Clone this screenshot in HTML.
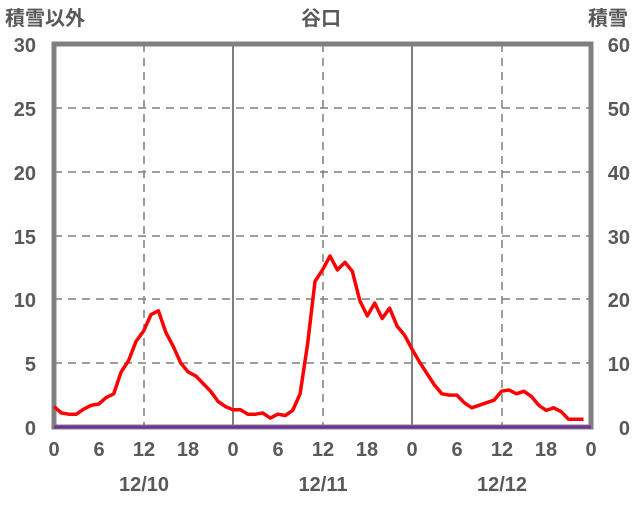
<!DOCTYPE html><html><head><meta charset="utf-8"><style>
body{margin:0;background:#fff;width:636px;height:501px;overflow:hidden}
text{font-family:"Liberation Sans","Noto Sans CJK JP",sans-serif;fill:#595959;font-size:20px;font-weight:bold}
</style></head><body>
<svg id="s" width="636" height="501" xmlns="http://www.w3.org/2000/svg">
<g stroke="#7f7f7f" stroke-width="1.5" stroke-dasharray="8,6">
<line x1="54" x2="591" y1="108" y2="108"/><line x1="54" x2="591" y1="172" y2="172"/><line x1="54" x2="591" y1="236" y2="236"/><line x1="54" x2="591" y1="299" y2="299"/><line x1="54" x2="591" y1="363" y2="363"/>
<line x1="144" x2="144" y1="44" y2="427"/><line x1="323" x2="323" y1="44" y2="427"/><line x1="502" x2="502" y1="44" y2="427"/>
</g>
<g stroke="#7f7f7f" stroke-width="2"><line x1="233" x2="233" y1="44" y2="427"/><line x1="412" x2="412" y1="44" y2="427"/></g>
<rect x="54" y="44" width="537" height="383" fill="none" stroke="#808080" stroke-width="5"/>
<polyline id="p" fill="none" stroke="#ff0000" stroke-width="3.5" stroke-linejoin="round"/>
<line x1="54" x2="591" y1="427" y2="427" stroke="#7030a0" stroke-width="3"/>
<text x="5" y="25">積雪以外</text><text x="301" y="25">谷口</text><text x="588" y="25">積雪</text>
<g text-anchor="end"><text x="36" y="52">30</text><text x="36" y="116">25</text><text x="36" y="180">20</text><text x="36" y="244">15</text><text x="36" y="307">10</text><text x="36" y="371">5</text><text x="36" y="435">0</text></g>
<g text-anchor="end"><text x="630" y="52">60</text><text x="630" y="116">50</text><text x="630" y="180">40</text><text x="630" y="244">30</text><text x="630" y="307">20</text><text x="630" y="371">10</text><text x="630" y="435">0</text></g>
<g text-anchor="middle"><text x="54" y="456">0</text><text x="99" y="456">6</text><text x="144" y="456">12</text><text x="188" y="456">18</text><text x="233" y="456">0</text><text x="278" y="456">6</text><text x="323" y="456">12</text><text x="367" y="456">18</text><text x="412" y="456">0</text><text x="457" y="456">6</text><text x="502" y="456">12</text><text x="546" y="456">18</text><text x="591" y="456">0</text>
<text x="144" y="491">12/10</text><text x="323" y="491">12/11</text><text x="502" y="491">12/12</text></g>
</svg>
<script>
var d=[1.6,1.1,1.0,1.0,1.4,1.7,1.8,2.3,2.6,4.3,5.2,6.7,7.5,8.8,9.1,7.4,6.3,5.0,4.3,4.0,3.4,2.8,2.0,1.6,
1.35,1.35,1.0,1.0,1.1,0.7,1.0,0.9,1.3,2.6,6.5,11.4,12.3,13.4,12.3,12.9,12.2,9.9,8.7,9.7,8.5,9.3,7.9,7.2,
6.1,5.1,4.2,3.3,2.6,2.5,2.5,1.9,1.5,1.7,1.9,2.1,2.8,2.9,2.6,2.8,2.4,1.7,1.3,1.5,1.2,0.6,0.6,0.6];
var pts=d.map(function(v,i){return (54+i*179/24).toFixed(1)+","+(427-v*12.77).toFixed(1)}).join(" ");
document.getElementById("p").setAttribute("points",pts);
</script>
</body></html>
